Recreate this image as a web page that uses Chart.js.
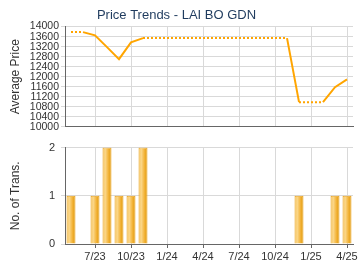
<!DOCTYPE html>
<html><head><meta charset="utf-8">
<script src="https://cdn.jsdelivr.net/npm/chart.js@4"></script>
<style>
html,body{margin:0;padding:0;background:#fff;width:360px;height:270px;overflow:hidden}
.box{position:absolute;left:0;width:360px;height:135px}
</style></head><body>
<div class="box" style="top:0"><canvas id="c1" width="360" height="135"></canvas></div>
<div class="box" style="top:135px"><canvas id="c2" width="360" height="135"></canvas></div>
<script>
const months = ['5/23','6/23','7/23','8/23','9/23','10/23','11/23','12/23',
  '1/24','2/24','3/24','4/24','5/24','6/24','7/24','8/24','9/24','10/24','11/24','12/24',
  '1/25','2/25','3/25','4/25'];
const avgPrice = [13780,13780,13650,13180,12700,13370,13540,13540,
  13540,13540,13540,13540,13540,13540,13540,13540,13540,13540,13540,10980,
  10980,10980,11580,11890];
const transactions = [1,0,1,2,1,1,2,0,
  0,0,0,0,0,0,0,0,0,0,0,1,
  0,0,1,1];
const priceTicks = {min:10000, max:14000, step:400};
const transTicks = {min:0, max:2, step:1};

const FONT = "'Liberation Sans', Arial, sans-serif";
const GRID = '#d9d9d9';
const AXIS = '#666666';
const isQuarter = l => ['1','4','7','10'].includes(l.split('/')[0]);

function xGridColor(ctx){
  const l = months[ctx.index];
  return (l && isQuarter(l)) ? GRID : 'rgba(0,0,0,0)';
}

new Chart(document.getElementById('c1'), {
  type:'line',
  data:{labels:months, datasets:[{
    data:avgPrice, borderColor:'#ffa500', borderWidth:2, pointRadius:0,
    tension:0, fill:false,
    segment:{borderDash: c => transactions[c.p1DataIndex] === 0 ? [2,2] : undefined}
  }]},
  options:{
    responsive:false, animation:false, devicePixelRatio:1,
    layout:{padding:{left:0,right:7,top:0,bottom:0}},
    plugins:{legend:{display:false}, tooltip:{enabled:false},
      title:{display:true, text:'Price Trends - LAI BO GDN', color:'#1f3b5e',
        font:{family:FONT, size:13, weight:'normal'}, padding:{top:8,bottom:3}}},
    scales:{
      x:{offset:true, grid:{offset:false, color:xGridColor, tickLength:0, drawTicks:false},
        border:{color:AXIS, width:1},
        ticks:{display:false, autoSkip:false},
        afterFit: s => { s.height = 6; }},
      y:{min:priceTicks.min, max:priceTicks.max,
        grid:{color:GRID, tickLength:4},
        border:{color:AXIS, width:1},
        ticks:{stepSize:priceTicks.step, autoSkip:false, color:'#333', font:{family:FONT,size:10.5}, padding:2,
          callback: v => String(v)},
        title:{display:true, text:'Average Price', color:'#333', font:{family:FONT,size:12}, padding:{top:8,bottom:0}},
        afterFit: s => { s.width = 65; }}
    }
  }
});

function barGradient(ctx){
  const chart = ctx.chart;
  const xs = chart.scales.x;
  if (!xs || ctx.dataIndex === undefined) return '#f5b93a';
  const cx = xs.getPixelForValue(ctx.dataIndex);
  const w = (xs.width / months.length) * 0.75;
  if (!isFinite(cx) || !isFinite(w) || w <= 0) return '#f5b93a';
  const g = chart.ctx.createLinearGradient(cx - w/2, 0, cx + w/2, 0);
  g.addColorStop(0, '#f5bb48');
  g.addColorStop(0.3, '#fbd88c');
  g.addColorStop(0.65, '#f3b43a');
  g.addColorStop(1, '#de9606');
  return g;
}

new Chart(document.getElementById('c2'), {
  type:'bar',
  data:{labels:months, datasets:[{
    data:transactions, backgroundColor:barGradient, borderColor:'#e9a21c', borderWidth:1,
    barPercentage:0.75, categoryPercentage:1
  }]},
  options:{
    responsive:false, animation:false, devicePixelRatio:1,
    layout:{padding:{left:0,right:7,top:12,bottom:0}},
    plugins:{legend:{display:false}, tooltip:{enabled:false}},
    scales:{
      x:{offset:true, grid:{offset:false, color:xGridColor, tickLength:4, tickColor: c => (months[c.index] && isQuarter(months[c.index])) ? AXIS : 'rgba(0,0,0,0)'},
        border:{color:AXIS, width:1},
        ticks:{autoSkip:false, maxRotation:0, color:'#333', font:{family:FONT,size:11}, padding:2,
          callback:(v,i) => isQuarter(months[i]) ? months[i] : ''},
        afterFit: s => { s.height = 26; }},
      y:{min:transTicks.min, max:transTicks.max,
        grid:{color:GRID, tickLength:4},
        border:{color:AXIS, width:1},
        ticks:{stepSize:transTicks.step, color:'#333', font:{family:FONT,size:11}, padding:6},
        title:{display:true, text:'No. of Trans.', color:'#333', font:{family:FONT,size:12}, padding:{top:8,bottom:0}},
        afterFit: s => { s.width = 65; }}
    }
  }
});
</script>
</body></html>
